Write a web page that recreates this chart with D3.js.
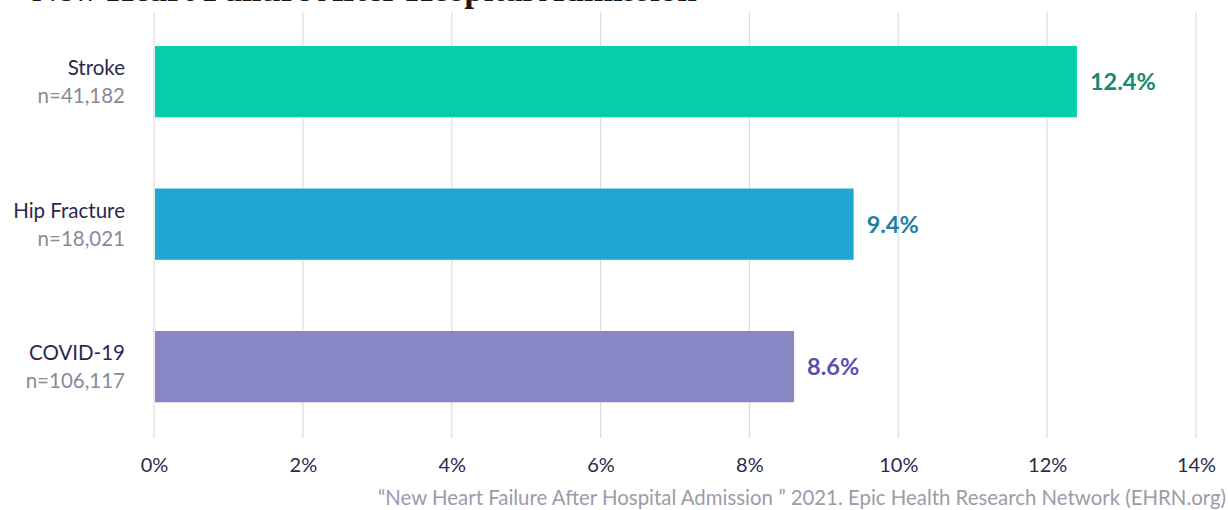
<!DOCTYPE html>
<html>
<head>
<meta charset="utf-8">
<script src="https://cdn.jsdelivr.net/npm/d3@7"></script>
<style>
  html, body { margin: 0; padding: 0; background: #ffffff; }
  svg { display: block; }
</style>
</head>
<body>
<svg id="chart" width="1228" height="510"></svg>
<script>
const categories = ["Stroke", "Hip Fracture", "COVID-19"];
const sampleSizes = ["n=41,182", "n=18,021", "n=106,117"];
const values = [12.4, 9.4, 8.6];
const valueLabels = ["12.4%", "9.4%", "8.6%"];
const tickValues = [0, 2, 4, 6, 8, 10, 12, 14];
const tickLabels = ["0%", "2%", "4%", "6%", "8%", "10%", "12%", "14%"];
const barColors = ["#05cfaa", "#1fa7d3", "#8986c5"];
const labelColors = ["#178a72", "#21809f", "#5b4fae"];
const titleText = "New Heart Failure After Hospital Admission";
const sourceText = "\u201CNew Heart Failure After Hospital Admission \u201D 2021. Epic Health Research Network (EHRN.org)";

const svg = d3.select("#chart");
const font = "Lato, 'Open Sans', sans-serif";

const x = d3.scaleLinear().domain([0, 14]).range([154, 1196]);
const y = d3.scaleBand().domain(categories).range([10.4, 437.9])
  .paddingInner(0.5).paddingOuter(0.25);

// clipped title (cut off at the top edge as in the reference)
svg.append("text")
  .attr("x", 32).attr("y", 0.5)
  .attr("font-family", "'Liberation Serif', 'DejaVu Serif', serif")
  .attr("font-weight", "bold")
  .attr("font-size", 35)
  .attr("fill", "#1a1a1a")
  .text(titleText);

// gridlines
svg.append("g").selectAll("line")
  .data(tickValues).join("line")
  .attr("x1", d => x(d)).attr("x2", d => x(d))
  .attr("y1", 12).attr("y2", 438)
  .attr("stroke", "#dcdcdc").attr("stroke-width", 1.2);

// x axis tick labels
const xAxis = d3.axisBottom(x).tickValues(tickValues)
  .tickFormat((d, i) => tickLabels[i]).tickSize(0).tickPadding(0);
const gx = svg.append("g").attr("transform", "translate(0,458)").call(xAxis);
gx.select(".domain").remove();
gx.selectAll("text")
  .attr("font-family", font).attr("font-size", 20)
  .attr("fill", "#2b2a4c").attr("dy", "0.71em");

// bars
svg.append("g").selectAll("rect")
  .data(values).join("rect")
  .attr("x", x(0) + 1)
  .attr("y", (d, i) => y(categories[i]))
  .attr("width", d => x(d) - x(0) - 1)
  .attr("height", y.bandwidth())
  .attr("fill", (d, i) => barColors[i]);

// value labels
svg.append("g").selectAll("text")
  .data(values).join("text")
  .attr("x", d => x(d) + 13)
  .attr("y", (d, i) => y(categories[i]) + y.bandwidth() / 2)
  .attr("dy", "0.36em")
  .attr("font-family", font).attr("font-weight", "bold").attr("font-size", 23.5)
  .attr("fill", (d, i) => labelColors[i])
  .text((d, i) => valueLabels[i]);

// category labels
const cat = svg.append("g").selectAll("g")
  .data(categories).join("g")
  .attr("transform", d => `translate(125,${y(d) + y.bandwidth() / 2})`);
cat.append("text")
  .attr("text-anchor", "end").attr("y", -14).attr("dy", "0.36em")
  .attr("font-family", font).attr("font-size", 20.5).attr("fill", "#2b2a4c")
  .text(d => d);
cat.append("text")
  .attr("text-anchor", "end").attr("y", 14).attr("dy", "0.36em")
  .attr("font-family", font).attr("font-size", 20.5).attr("fill", "#8b8a9b")
  .text((d, i) => sampleSizes[i]);

// source
svg.append("text")
  .attr("x", 1226).attr("y", 505)
  .attr("text-anchor", "end")
  .attr("font-family", font).attr("font-size", 20.4).attr("fill", "#9c9ba9")
  .text(sourceText);
</script>
</body>
</html>
